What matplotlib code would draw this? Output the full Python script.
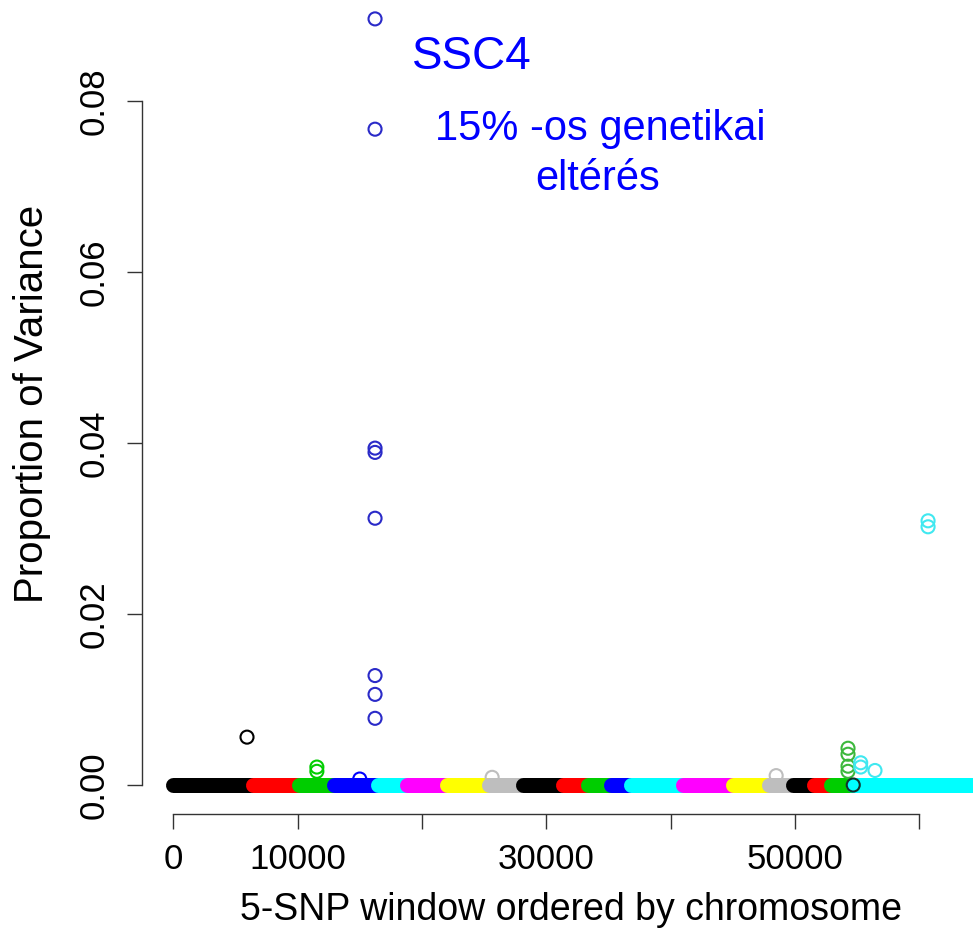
import matplotlib
matplotlib.use("Agg")
import matplotlib.pyplot as plt

plt.rcParams['font.family'] = ['Liberation Sans', 'DejaVu Sans']

# R default palette, repeated over the chromosomes
chrom_colors = ["black", "#FF0000", "#00CD00", "#0000FF", "#00FFFF", "#FF00FF", "#FFFF00", "#BEBEBE",
                "black", "#FF0000", "#00CD00", "#0000FF", "#00FFFF", "#FF00FF", "#FFFF00", "#BEBEBE",
                "black", "#FF0000", "#00CD00", "#00FFFF"]
# first window index of each chromosome (5-SNP windows)
chrom_start = [0, 6410, 10110, 12930, 16470, 18800, 22020, 25400, 28140, 31350,
               33360, 35220, 36820, 41010, 45030, 47930, 49850, 51540, 52910, 54680]
last_window = 66000

# windows that stand out of the zero band
out_x = [5930, 11550, 11550, 15000, 25650,
         16230, 16230, 16230, 16230, 16230, 16230, 16230, 16230,
         48500, 54280, 54280, 54280, 54280, 54700,
         55300, 55300, 56450, 60720, 60720]
out_y = [0.0056, 0.0021, 0.0016, 0.0007, 0.0009,
         0.0896, 0.0767, 0.0394, 0.0389, 0.0312, 0.0128, 0.0106, 0.0078,
         0.0011, 0.0043, 0.0036, 0.0022, 0.0016, 0.0,
         0.0026, 0.0021, 0.0017, 0.0309, 0.0302]
out_col = ["black", "#00CD00", "#00CD00", "#0000FF", "#BEBEBE",
           "#2a2ac8", "#2a2ac8", "#2a2ac8", "#2a2ac8", "#2a2ac8", "#2a2ac8", "#2a2ac8", "#2a2ac8",
           "#BEBEBE", "#3cb83c", "#3cb83c", "#3cb83c", "#3cb83c", "#10302a",
           "#40e8f0", "#40e8f0", "#40e8f0", "#40e8f0", "#40e8f0"]

x_ticks = [0, 10000, 20000, 30000, 40000, 50000, 60000]
x_ticklabels = ["0", "10000", "", "30000", "", "50000", ""]
y_ticks = [0.00, 0.02, 0.04, 0.06, 0.08]

W, H = 973, 943
fig = plt.figure(figsize=(W / 100, H / 100), dpi=100)
ax = fig.add_axes([142 / W, (H - 814) / H, (W - 142) / W, 814 / H])

# the zero band: thousands of overlapping circles per chromosome
ends = chrom_start[1:] + [last_window]
for s, e, c in zip(chrom_start, ends, chrom_colors):
    ax.plot([s, e], [0, 0], color=c, lw=10.8, solid_capstyle="round", zorder=2)

ax.scatter(out_x, out_y, s=88, facecolors="none", edgecolors=out_col, linewidths=1.5, zorder=3)

ax.set_xlim(-2518, 64335)
ax.set_ylim(-0.00339, 0.09181)

for side in ["top", "right"]:
    ax.spines[side].set_visible(False)
ax.spines["left"].set_bounds(0, 0.08)
ax.spines["bottom"].set_bounds(0, 60000)
for side in ["left", "bottom"]:
    ax.spines[side].set_color("#333333")
    ax.spines[side].set_linewidth(1.0)

ax.set_xticks(x_ticks)
ax.set_xticklabels(x_ticklabels)
ax.set_yticks(y_ticks)
ax.set_yticklabels(["%.2f" % v for v in y_ticks], rotation=90, va="center")
ax.tick_params(axis="both", length=10.8, width=1.0, color="#333333", labelsize=25)
ax.tick_params(axis="x", pad=10)
ax.tick_params(axis="y", pad=11.5)

fig.text(32 / W, 1 - 404 / H, "Proportion of Variance", rotation=90, ha="center", va="center", fontsize=29)
fig.text(571 / W, 1 - 920 / H, "5-SNP window ordered by chromosome", ha="center", va="baseline", fontsize=27)

fig.text(472 / W, 1 - 69 / H, "SSC4", color="#0000FF", ha="center", va="baseline", fontsize=33)
fig.text(600 / W, 1 - 140 / H, "15% -os genetikai", color="#0000FF", ha="center", va="baseline", fontsize=30)
fig.text(598 / W, 1 - 190 / H, "eltérés", color="#0000FF", ha="center", va="baseline", fontsize=30)

fig.savefig("out.png", dpi=100)
